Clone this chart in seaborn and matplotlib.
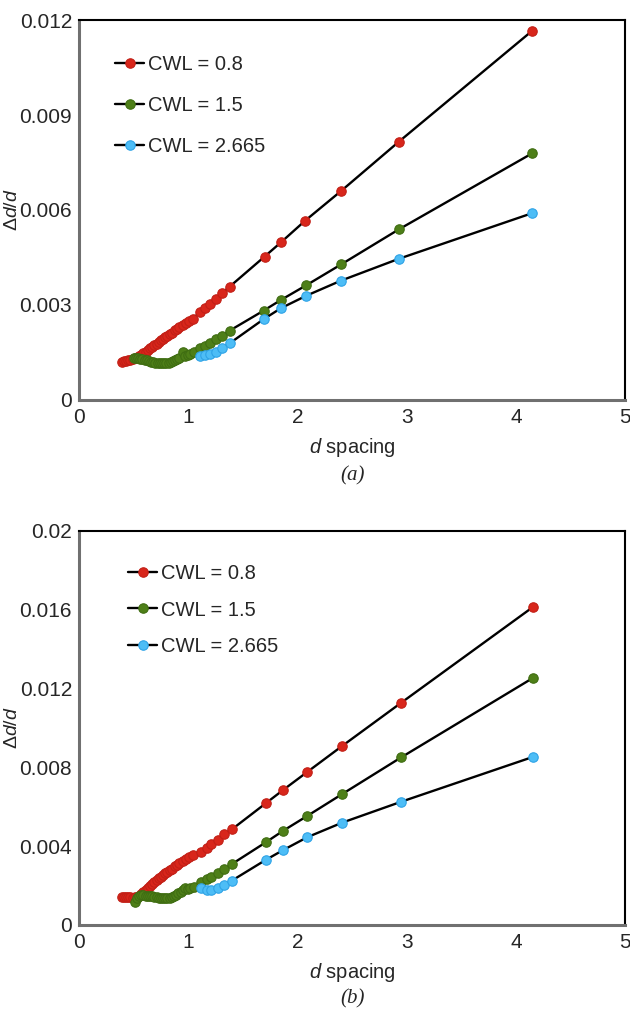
import matplotlib
matplotlib.use("Agg")
import matplotlib.pyplot as plt
from matplotlib.lines import Line2D
import seaborn as sns

# ---------------------------------------------------------------
# data: (a) top panel, (b) bottom panel
# ---------------------------------------------------------------
labels = ["CWL = 0.8", "CWL = 1.5", "CWL = 2.665"]
colors = ["#d8261b", "#4e7f18", "#4dbdf6"]
edge_colors = ["#c21f16", "#3f6d12", "#2fa3e6"]

red_a_x = [0.39, 0.41, 0.43, 0.45, 0.47, 0.49, 0.51, 0.53, 0.55, 0.57, 0.59, 0.61,
           0.63, 0.65, 0.67, 0.69, 0.71, 0.73, 0.75, 0.77, 0.79, 0.81, 0.83, 0.85,
           0.88, 0.90, 0.92, 0.95, 0.98, 1.01, 1.04, 1.11, 1.15, 1.20, 1.25, 1.31,
           1.38, 1.70, 1.85, 2.07, 2.40, 2.93, 4.15]
red_a_y = [0.00121, 0.00122, 0.00123, 0.00125, 0.00126, 0.00128, 0.00131, 0.00134,
           0.00138, 0.00143, 0.00148, 0.00153, 0.00158, 0.00163, 0.00168, 0.00173,
           0.00178, 0.00183, 0.00188, 0.00193, 0.00198, 0.00203, 0.00208, 0.00213,
           0.00220, 0.00225, 0.00230, 0.00237, 0.00243, 0.00250, 0.00257, 0.00277,
           0.00290, 0.00303, 0.00319, 0.00337, 0.00358, 0.00453, 0.00498, 0.00566,
           0.00660, 0.00816, 0.01166]

green_a_x = [0.50, 0.52, 0.54, 0.56, 0.58, 0.60, 0.62, 0.64, 0.66, 0.68, 0.70, 0.72,
             0.74, 0.76, 0.78, 0.80, 0.82, 0.84, 0.86, 0.88, 0.90, 0.92, 0.95, 0.97,
             1.00, 1.02, 1.05, 1.11, 1.15, 1.20, 1.25, 1.31, 1.38, 1.69, 1.85, 2.08,
             2.40, 2.93, 4.15]
green_a_y = [0.00132, 0.00132, 0.00131, 0.00130, 0.00128, 0.00127, 0.00125, 0.00123,
             0.00121, 0.00120, 0.00118, 0.00117, 0.00116, 0.00116, 0.00116, 0.00117,
             0.00118, 0.00120, 0.00122, 0.00125, 0.00128, 0.00133, 0.00153, 0.00138,
             0.00142, 0.00146, 0.00152, 0.00163, 0.00171, 0.00181, 0.00192, 0.00202,
             0.00219, 0.00282, 0.00316, 0.00362, 0.00428, 0.00539, 0.00779]

blue_a_x = [1.11, 1.15, 1.20, 1.25, 1.31, 1.38, 1.69, 1.85, 2.08, 2.40, 2.93, 4.15]
blue_a_y = [0.00139, 0.00141, 0.00145, 0.00153, 0.00165, 0.00179, 0.00255, 0.00290,
            0.00329, 0.00377, 0.00446, 0.00590]

red_b_x = [0.39, 0.41, 0.43, 0.45, 0.47, 0.49, 0.51, 0.53, 0.55, 0.57, 0.59, 0.61,
           0.63, 0.65, 0.67, 0.69, 0.71, 0.73, 0.75, 0.77, 0.79, 0.81, 0.83, 0.85,
           0.88, 0.90, 0.92, 0.95, 0.98, 1.01, 1.04, 1.12, 1.17, 1.21, 1.27, 1.33,
           1.40, 1.71, 1.87, 2.09, 2.41, 2.95, 4.16]
red_b_y = [0.00144, 0.00143, 0.00142, 0.00141, 0.00140, 0.00139, 0.00140, 0.00143,
           0.00148, 0.00156, 0.00167, 0.00177, 0.00187, 0.00197, 0.00207, 0.00217,
           0.00227, 0.00236, 0.00245, 0.00254, 0.00262, 0.00270, 0.00278, 0.00286,
           0.00297, 0.00305, 0.00312, 0.00323, 0.00333, 0.00344, 0.00355, 0.00372,
           0.00389, 0.00409, 0.00431, 0.00460, 0.00485, 0.00617, 0.00685, 0.00776,
           0.00908, 0.01127, 0.01614]

green_b_x = [0.51, 0.53, 0.55, 0.57, 0.59, 0.61, 0.63, 0.65, 0.67, 0.69, 0.71, 0.73,
             0.75, 0.77, 0.79, 0.81, 0.83, 0.85, 0.87, 0.89, 0.91, 0.93, 0.95, 0.97,
             1.00, 1.02, 1.05, 1.12, 1.17, 1.21, 1.27, 1.33, 1.40, 1.71, 1.87, 2.09,
             2.41, 2.95, 4.16]
green_b_y = [0.00118, 0.00135, 0.00146, 0.00150, 0.00150, 0.00149, 0.00148, 0.00147,
             0.00145, 0.00143, 0.00141, 0.00139, 0.00137, 0.00136, 0.00136, 0.00137,
             0.00139, 0.00142, 0.00146, 0.00152, 0.00160, 0.00168, 0.00177, 0.00190,
             0.00183, 0.00187, 0.00191, 0.00220, 0.00232, 0.00245, 0.00262, 0.00282,
             0.00309, 0.00419, 0.00478, 0.00553, 0.00664, 0.00850, 0.01254]

blue_b_x = [1.12, 1.17, 1.21, 1.27, 1.33, 1.40, 1.71, 1.87, 2.09, 2.41, 2.95, 4.16]
blue_b_y = [0.00186, 0.00177, 0.00177, 0.00186, 0.00201, 0.00225, 0.00330, 0.00380,
            0.00445, 0.00519, 0.00625, 0.00853]

x_ticks = [0, 1, 2, 3, 4, 5]
x_tick_labels = ["0", "1", "2", "3", "4", "5"]
y_ticks_a = [0, 0.003, 0.006, 0.009, 0.012]
y_tick_labels_a = ["0", "0.003", "0.006", "0.009", "0.012"]
y_ticks_b = [0, 0.004, 0.008, 0.012, 0.016, 0.02]
y_tick_labels_b = ["0", "0.004", "0.008", "0.012", "0.016", "0.02"]

# ---------------------------------------------------------------
sns.set_style("white")
plt.rcParams["font.family"] = ["Liberation Sans", "DejaVu Sans"]
plt.rcParams["mathtext.fontset"] = "custom"
plt.rcParams["mathtext.it"] = "Liberation Sans:italic"
plt.rcParams["mathtext.rm"] = "Liberation Sans"

FS_TICK = 15
FS_LEG = 14.5
FS_LAB = 14.5

fig = plt.figure(figsize=(6.3, 10.11), dpi=100)
ax_a = fig.add_axes([0.1254, 0.6044, 0.8667, 0.3758])
ax_b = fig.add_axes([0.1254, 0.0851, 0.8667, 0.3900])

panels = [
    (ax_a, [(red_a_x, red_a_y), (green_a_x, green_a_y), (blue_a_x, blue_a_y)],
     y_ticks_a, y_tick_labels_a, 0.012, (0.066, 0.908), 1.1, -0.095),
    (ax_b, [(red_b_x, red_b_y), (green_b_x, green_b_y), (blue_b_x, blue_b_y)],
     y_ticks_b, y_tick_labels_b, 0.02, (0.09, 0.915), 0.86, -0.092),
]

for ax, series, yt, ytl, ymax, leg_pos, leg_sp, xlab_y in panels:
    for (xs, ys), c, ec in zip(series, colors, edge_colors):
        sns.lineplot(x=xs, y=ys, ax=ax, color="black", linewidth=1.7,
                     marker="o", markersize=6.8, markerfacecolor=c,
                     markeredgecolor=ec, markeredgewidth=0.8, sort=False,
                     estimator=None)

    ax.set_xlim(0, 5)
    ax.set_ylim(0, ymax)
    ax.set_xticks(x_ticks)
    ax.set_xticklabels(x_tick_labels, fontsize=FS_TICK)
    ax.set_yticks(yt)
    ax.set_yticklabels(ytl, fontsize=FS_TICK)
    ax.tick_params(axis="both", length=0)
    ax.tick_params(axis="x", pad=6)
    ax.tick_params(axis="y", pad=5)

    for side in ["top", "right"]:
        ax.spines[side].set_color("black")
        ax.spines[side].set_linewidth(1.5)
    for side in ["left", "bottom"]:
        ax.spines[side].set_color("#707070")
        ax.spines[side].set_linewidth(2.2)

    ax.set_xlabel(r"$d$ spacing", fontsize=FS_LAB)
    ax.xaxis.set_label_coords(0.5, xlab_y)
    ax.set_ylabel(r"Δ$d$/$d$", fontsize=14)
    ax.yaxis.set_label_coords(-0.106, 0.5)

    handles = [Line2D([0], [0], color="black", linewidth=1.7, marker="o",
                      markersize=6.8, markerfacecolor=c, markeredgecolor=ec,
                      markeredgewidth=0.8)
               for c, ec in zip(colors, edge_colors)]
    ax.legend(handles, labels, loc="upper left", bbox_to_anchor=leg_pos,
              frameon=False, fontsize=FS_LEG, handlelength=1.45, handletextpad=0.2,
              labelspacing=leg_sp, borderpad=0, borderaxespad=0)

fig.text(0.56, 1 - 476 / 1011, "(a)", ha="center", va="center", fontsize=15,
         family="Liberation Serif", style="italic")
fig.text(0.56, 1 - 999 / 1011, "(b)", ha="center", va="center", fontsize=15,
         family="Liberation Serif", style="italic")

fig.savefig("out.png", dpi=100)
